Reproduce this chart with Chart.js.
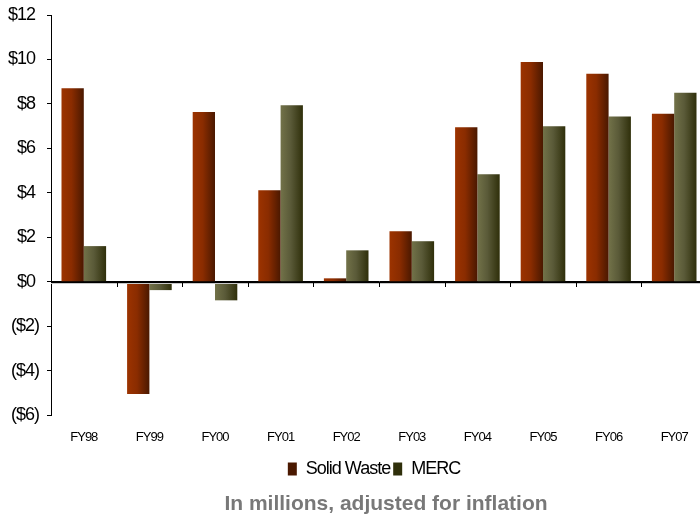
<!DOCTYPE html>
<html>
<head>
<meta charset="utf-8">
<script src="https://cdn.jsdelivr.net/npm/chart.js@4/dist/chart.umd.min.js"></script>
<style>
  html, body { margin: 0; padding: 0; background: #fff; overflow: hidden; }
  #wrap { position: relative; width: 748px; height: 516px; }
</style>
</head>
<body>
<div id="wrap"><canvas id="myChart"></canvas></div>
<script>
const years = ['FY98', 'FY99', 'FY00', 'FY01', 'FY02', 'FY03', 'FY04', 'FY05', 'FY06', 'FY07'];
const solidWaste = [8.7, -5.05, 7.63, 4.11, 0.15, 2.27, 6.95, 9.88, 9.36, 7.56];
const merc = [1.6, -0.38, -0.84, 7.94, 1.41, 1.82, 4.83, 6.99, 7.43, 8.5];
const yTicks = [-6, -4, -2, 0, 2, 4, 6, 8, 10, 12];

const solidStops = ['#9c3300', '#8a2c00', '#4a1800'];
const mercStops = ['#727249', '#5a5a38', '#2f2f0a'];

const catShare = 0.68;

const barFill = (ctx, stops, side) => {
  const chart = ctx.chart;
  const x = chart.scales && chart.scales.x;
  if (!x || ctx.dataIndex === undefined || !chart.chartArea) return stops[1];
  const catW = x.width / years.length;
  const barW = catW * catShare / 2;
  const c = x.getPixelForValue(ctx.dataIndex);
  const left = side === 0 ? c - barW : c;
  const g = chart.ctx.createLinearGradient(left, 0, left + barW, 0);
  g.addColorStop(0, stops[0]);
  g.addColorStop(0.45, stops[1]);
  g.addColorStop(1, stops[2]);
  return g;
};

// tight letter spacing like the reference, title keeps normal spacing
const spacingPlugin = {
  id: 'spacing',
  afterInit(chart) {
    const t = chart.titleBlock;
    if (t) {
      const orig = t.draw.bind(t);
      t.draw = function () {
        const prev = chart.ctx.letterSpacing;
        chart.ctx.letterSpacing = '0px';
        orig();
        chart.ctx.letterSpacing = prev;
      };
    }
  },
  beforeUpdate(chart) { chart.ctx.letterSpacing = '-1px'; },
  afterLayout(chart) {
    // legend and note are centred on the full (uncropped) width
    chart.legend.right = chart.width;
    chart.titleBlock.left = 24;
    chart.titleBlock.right = chart.width;
  },
  beforeDraw(chart) { chart.ctx.letterSpacing = '-1px'; }
};

// zero line with its small tick marks at the category borders
const zeroTicks = {
  id: 'zeroTicks',
  afterDatasetsDraw(chart) {
    const x = chart.scales.x, y = chart.scales.y;
    const ctx = chart.ctx;
    const y0 = Math.round(y.getPixelForValue(0));
    const catW = x.width / years.length;
    ctx.save();
    ctx.strokeStyle = '#c8c8c8';
    ctx.lineWidth = 1;
    ctx.beginPath();
    ctx.moveTo(x.left, y0 + 1.5);
    ctx.lineTo(x.right, y0 + 1.5);
    ctx.stroke();
    ctx.strokeStyle = '#000';
    ctx.beginPath();
    ctx.moveTo(x.left, y0 + 0.5);
    ctx.lineTo(x.right, y0 + 0.5);
    for (let i = 1; i <= years.length; i++) {
      const px = Math.round(x.getPixelForValue(i - 1) + catW / 2) + 0.5;
      ctx.moveTo(px, y0);
      ctx.lineTo(px, y0 + 5);
    }
    ctx.stroke();
    ctx.restore();
  }
};

const ctx = document.getElementById('myChart').getContext('2d');
const chart = new Chart(ctx, {
  type: 'bar',
  data: {
    labels: years,
    datasets: [{
      label: 'Solid Waste',
      data: solidWaste,
      backgroundColor: (c) => barFill(c, solidStops, 0)
    }, {
      label: 'MERC',
      data: merc,
      backgroundColor: (c) => barFill(c, mercStops, 1)
    }]
  },
  options: {
    responsive: true,
    maintainAspectRatio: false,
    animation: false,
    categoryPercentage: catShare,
    barPercentage: 1,
    layout: { padding: { top: 0, right: 41, left: 0, bottom: 0 } },
    scales: {
      x: {
        grid: { display: false, drawTicks: false },
        border: { display: false },
        afterFit: (s) => { s.height = 42; },
        ticks: {
          color: '#000',
          padding: 15,
          font: { family: 'Liberation Sans', size: 13 }
        }
      },
      y: {
        min: -6,
        max: 12,
        afterBuildTicks: (s) => { s.ticks = yTicks.map(v => ({ value: v })); },
        afterFit: (s) => { s.width = 51; s.paddingTop = 15; },
        border: { display: true, color: '#000', width: 1 },
        grid: {
          color: (c) => c.tick && c.tick.value === 0 ? '#000' : 'rgba(0,0,0,0)',
          tickColor: '#000',
          tickLength: 4
        },
        ticks: {
          color: '#000',
          padding: 8,
          font: { family: 'Liberation Sans', size: 18, lineHeight: 0.9 },
          callback: (v) => v < 0 ? '($' + Math.abs(v) + ')' : '$' + v + ' '
        }
      }
    },
    plugins: {
      legend: {
        position: 'bottom',
        labels: {
          boxWidth: 9,
          boxHeight: 13,
          padding: 3,
          color: '#000',
          font: { family: 'Liberation Sans', size: 18, lineHeight: 1 }
        }
      },
      title: {
        display: true,
        position: 'bottom',
        text: 'In millions, adjusted for inflation',
        color: '#787878',
        padding: { top: 5.5, bottom: 1.5 },
        font: { family: 'Liberation Sans', size: 21, weight: 'bold', lineHeight: 1 }
      },
      tooltip: { enabled: false }
    }
  },
  plugins: [spacingPlugin, zeroTicks]
});
</script>
</body>
</html>
